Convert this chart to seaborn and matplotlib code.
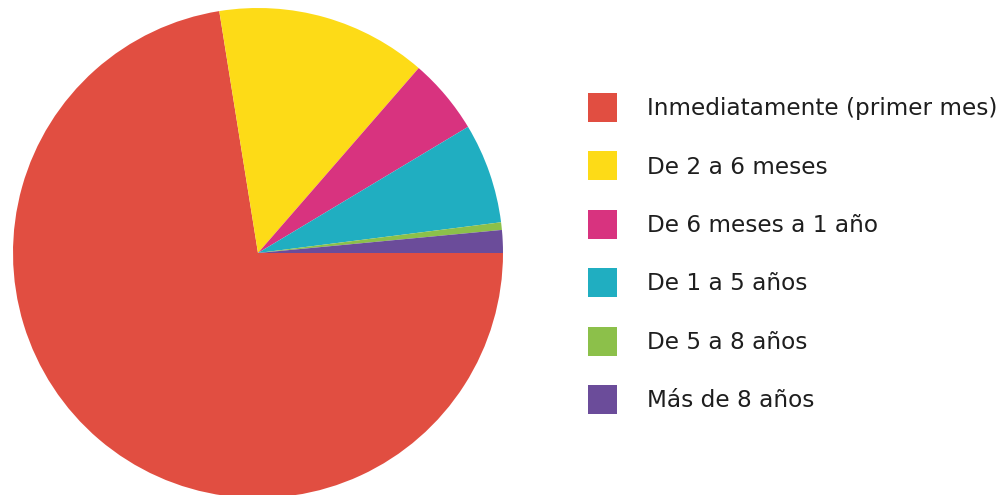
import matplotlib
matplotlib.use("Agg")
import matplotlib.pyplot as plt
import seaborn as sns
from matplotlib.patches import Patch

# tiempo hasta ... (porcentajes)
categorias = [
    "Inmediatamente (primer mes)",
    "De 2 a 6 meses",
    "De 6 meses a 1 año",
    "De 1 a 5 años",
    "De 5 a 8 años",
    "Más de 8 años",
]
porcentajes = [72.4, 13.9, 5.0, 6.6, 0.5, 1.5]
colores = ["#E14E41", "#FDDB17", "#D8337F", "#20AEC1", "#8CC04A", "#6B4C9A"]

sns.set_theme(style="white")
plt.rcParams["font.family"] = ["DejaVu Sans"]

fig = plt.figure(figsize=(10, 4.95), dpi=100)
fig.patch.set_facecolor("white")

# pie ocupa la izquierda, cortado un poco por abajo
ax = fig.add_axes([0.013, -0.00606, 0.49, 490 / 495])
ax.pie(porcentajes, colors=colores, startangle=0, counterclock=False,
       radius=1, wedgeprops={"linewidth": 0})
ax.set_xlim(-1, 1)
ax.set_ylim(-1, 1)
ax.set_aspect("equal")
ax.axis("off")

# leyenda: cuadros de 29 px, filas cada ~58 px
fs = 16.7
fs_px = fs * 100 / 72
sq = 29
hh = (sq - 0.245 * fs_px) / (0.65 * fs_px)
handles = [Patch(facecolor=c, edgecolor="none") for c in colores]
fig.legend(handles, categorias, loc="upper left",
           bbox_to_anchor=(0.588, 1 - 93 / 495),
           frameon=False, fontsize=fs,
           handlelength=sq / fs_px, handleheight=hh,
           handletextpad=30 / fs_px,
           labelspacing=(58.4 - sq) / fs_px,
           borderpad=0, borderaxespad=0, labelcolor="#1e1e1e")

fig.savefig("out.png", dpi=100)
